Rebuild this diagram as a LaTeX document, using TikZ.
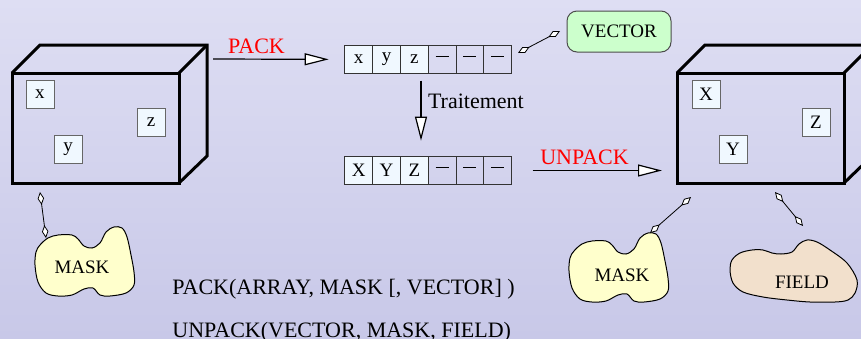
\documentclass[tikz,border=0pt]{standalone}
\usepackage{fontspec}
\setmainfont{Liberation Serif}
\usepackage{tikz}
\usetikzlibrary{positioning,calc,arrows.meta,shapes}
\definecolor{bgtop}{HTML}{DEDEF3}
\definecolor{bgbot}{HTML}{C8C8E8}
\definecolor{cellfill}{HTML}{F0F8FF}
\definecolor{vecgreen}{HTML}{CCFFCC}
\definecolor{maskyellow}{HTML}{FFFFCC}
\definecolor{fieldtan}{HTML}{F2E0CC}
\newcommand{\emptycell}{\rule[2.6pt]{6.5pt}{0.45pt}}
\tikzset{big/.style={font=\fontsize{11}{13}\selectfont}}
\tikzset{small/.style={font=\fontsize{9.5}{11}\selectfont}}
\tikzset{cell/.style={small, draw=black!80, line width=0.5pt, minimum width=13.9pt, minimum height=13.7pt, inner sep=0pt}}
\tikzset{lbl/.style={small, draw=black!60, fill=cellfill, line width=0.5pt, minimum size=14pt, inner sep=0pt}}
\tikzset{vecbox/.style={small, draw=black!70, fill=vecgreen, line width=0.5pt, rounded corners=5pt, minimum width=52pt, minimum height=20.5pt}}
\tikzset{bigarr/.style={draw, line width=0.6pt, -{Triangle[fill=white, length=12pt, width=6pt]}}}
\tikzset{dia/.style={draw, line width=0.4pt, {Diamond[fill=white, length=6.5pt, width=3.2pt]}-{Diamond[fill=white, length=6.5pt, width=3.2pt]}}}
\tikzset{cube/.pic={
    \draw[line width=1.5pt] (0,0) rectangle (167,110);
    \draw[line width=1.5pt, line join=miter] (0,0) -- (28,-28) -- (195,-28) -- (195,83) -- (167,110);
    \draw[line width=1.5pt] (195,-28) -- (167,0);
}}
\tikzset{maskblob/.pic={
    \draw[fill=maskyellow, line width=0.5pt] plot[smooth cycle, tension=0.55] coordinates {
        (-42,-22) (-34,-29) (-24,-32) (-10,-32) (-4,-28) (2,-21) (10,-19) (18,-24)
        (24,-35) (32,-40) (40,-39) (45,-30) (49,-12) (52,5) (52,18) (44,26)
        (28,29) (18,28) (11,21) (2,22) (-10,28) (-24,29) (-36,26) (-44,15)
        (-47,-2) (-46,-15)};
}}

\begin{document}
\begin{tikzpicture}[x=0.5pt, y=-0.5pt]
    \useasboundingbox (0,0) rectangle (861,338);
    \clip (0,0) rectangle (861,338);
    \shade[top color=bgtop, bottom color=bgbot] (0,0) rectangle (861,338);

    % the two arrays
    \pic at (12,73) {cube};
    \pic at (677,73) {cube};
    \node[lbl] (lx) at (40,94) {x};
    \node[lbl] (ly) at (68,149) {y};
    \node[lbl] (lz) at (151,122) {z};
    \node[lbl] (rx) at (706,94) {X};
    \node[lbl] (ry) at (733,149) {Y};
    \node[lbl] (rz) at (816,122) {Z};

    % vectors
    \foreach \t [count=\i] in {x,y,z} {
        \node[cell, fill=cellfill] (a\i) at ({330.9+27.8*\i},59.4) {\t};
    }
    \foreach \t [count=\i] in {X,Y,Z} {
        \node[cell, fill=cellfill] (b\i) at ({330.9+27.8*\i},170.5) {\t};
    }
    \foreach \i in {4,5,6} {
        \node[cell] (a\i) at ({330.9+27.8*\i},59.4) {\emptycell};
        \node[cell] (b\i) at ({330.9+27.8*\i},170.5) {\emptycell};
    }
    \node[vecbox] (vec) at (619,31.5) {VECTOR};

    % masks and field
    \pic at (82,267) {maskblob};
    \pic at (616,273) {maskblob};
    \draw[fill=fieldtan, line width=0.5pt] plot[smooth cycle, tension=0.55] coordinates {
        (732,260) (740,253) (752,250) (763,250) (772,253) (781,254) (792,252) (799,244)
        (807,240) (817,242) (830,250) (847,263) (857,280) (855,293) (848,300) (835,302)
        (810,302) (787,300) (763,297) (743,292) (733,283) (730,270)};
    \node[small] (maskl) at (82,267) {MASK};
    \node[small] (maskr) at (622,275) {MASK};
    \node[small] (field) at (802,282) {FIELD};

    % arrows
    \coordinate (packfrom) at (213,59);
    \draw[bigarr, shorten >=7.8pt] (packfrom) -- (a1.west);
    \node[big, red] (packlbl) at (256.5,46) {PACK};
    \draw[bigarr, shorten <=3.5pt, shorten >=7.8pt] ([xshift=3.35pt]a3.south) -- ([xshift=3.35pt]b3.north);
    \node[big, anchor=west] (trait) at (421,101) {Traitement};
    \coordinate (unpackto) at (662,170.5);
    \draw[bigarr, shorten <=10.3pt] (b6.east) -- (unpackto);
    \node[big, red] (unpacklbl) at (584.5,157) {UNPACK};

    % links
    \coordinate (veca) at (518,53);
    \coordinate (vecb) at (560,31);
    \draw[dia] (veca) -- (vecb);
    \coordinate (lboxpt) at (40,192);
    \coordinate (lmaskpt) at (46,238);
    \draw[dia] (lboxpt) -- (lmaskpt);
    \coordinate (rboxpt) at (691,197);
    \coordinate (rmaskpt) at (650,233);
    \draw[dia] (rboxpt) -- (rmaskpt);
    \coordinate (fboxpt) at (775,192);
    \coordinate (fieldpt) at (803,226);
    \draw[dia] (fboxpt) -- (fieldpt);

    \node[big, anchor=base west, inner sep=0pt] (packdef) at (172,294) {PACK(ARRAY, MASK [, VECTOR] )};
    \node[big, anchor=base west, inner sep=0pt] (unpackdef) at (172,337) {UNPACK(VECTOR, MASK, FIELD)};
\end{tikzpicture}
\end{document}
